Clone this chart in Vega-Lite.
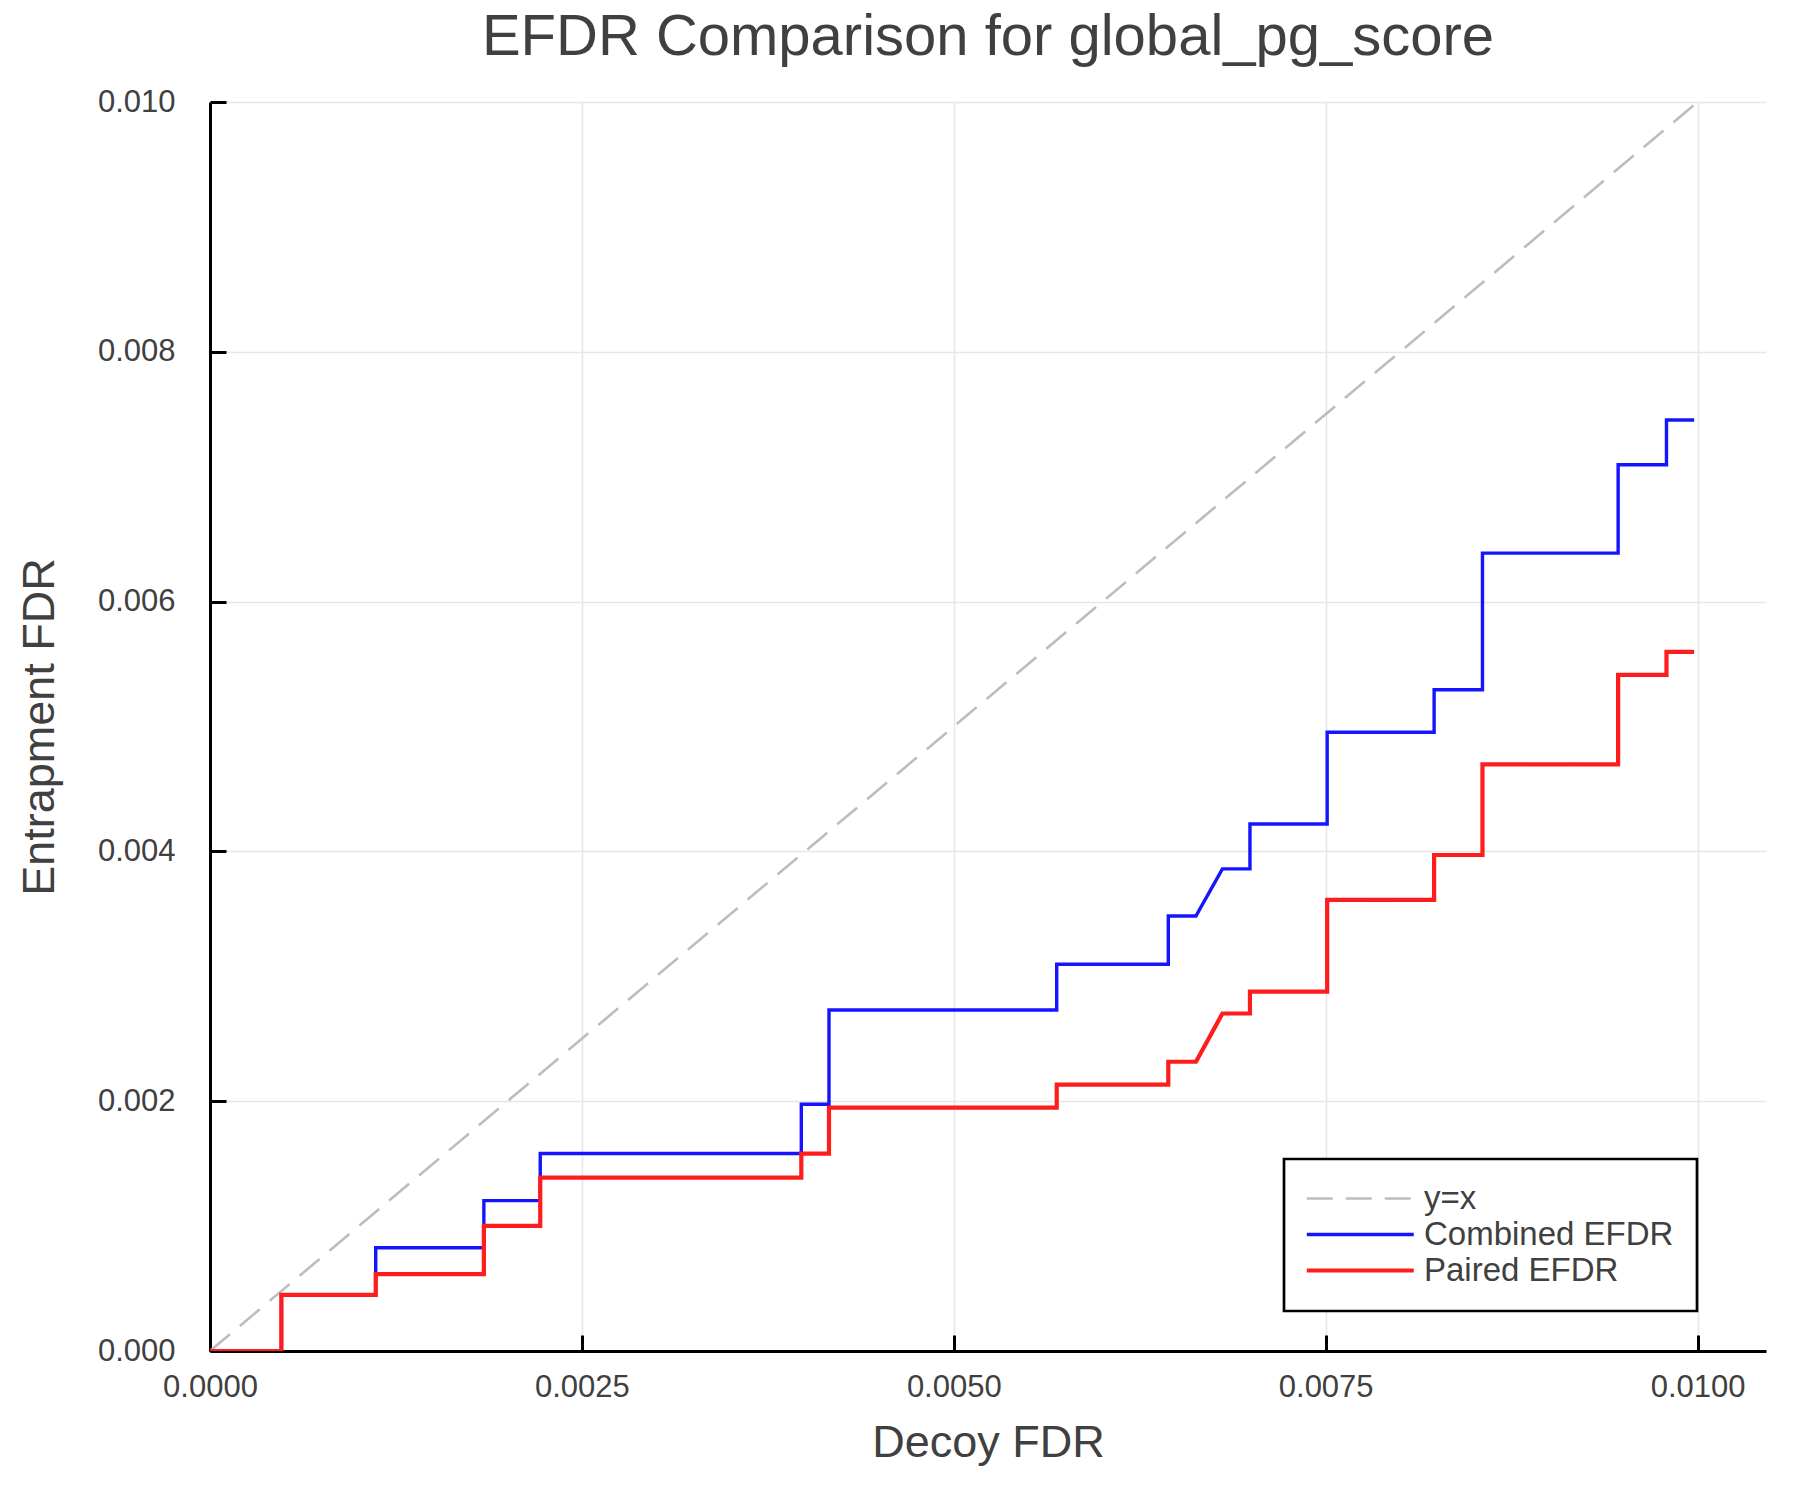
{
  "$schema": "https://vega.github.io/schema/vega-lite/v6.json",
  "autosize": {"type": "none"},
  "padding": {"left": 210, "top": 102, "right": 34, "bottom": 149},
  "width": 1556,
  "height": 1249,
  "background": "white",
  "title": {
    "text": "EFDR Comparison for global_pg_score",
    "fontSize": 58,
    "font": "Liberation Sans",
    "fontWeight": "normal",
    "color": "#404040",
    "anchor": "middle",
    "frame": "group",
    "baseline": "alphabetic",
    "offset": -27
  },
  "data": {
    "values": [
      {"series": "y=x", "i": 0, "fdr": 0, "efdr": 0},
      {"series": "y=x", "i": 1, "fdr": 0.01, "efdr": 0.01},
      {"series": "Combined EFDR", "i": 0, "fdr": 0, "efdr": 0},
      {"series": "Combined EFDR", "i": 1, "fdr": 0.00048, "efdr": 0},
      {"series": "Combined EFDR", "i": 2, "fdr": 0.00048, "efdr": 0.00045},
      {"series": "Combined EFDR", "i": 3, "fdr": 0.001114, "efdr": 0.00045},
      {"series": "Combined EFDR", "i": 4, "fdr": 0.001114, "efdr": 0.000827},
      {"series": "Combined EFDR", "i": 5, "fdr": 0.001841, "efdr": 0.000827},
      {"series": "Combined EFDR", "i": 6, "fdr": 0.001841, "efdr": 0.001204},
      {"series": "Combined EFDR", "i": 7, "fdr": 0.00222, "efdr": 0.001204},
      {"series": "Combined EFDR", "i": 8, "fdr": 0.00222, "efdr": 0.001581},
      {"series": "Combined EFDR", "i": 9, "fdr": 0.003975, "efdr": 0.001581},
      {"series": "Combined EFDR", "i": 10, "fdr": 0.003975, "efdr": 0.001976},
      {"series": "Combined EFDR", "i": 11, "fdr": 0.004161, "efdr": 0.001976},
      {"series": "Combined EFDR", "i": 12, "fdr": 0.004161, "efdr": 0.00273},
      {"series": "Combined EFDR", "i": 13, "fdr": 0.005692, "efdr": 0.00273},
      {"series": "Combined EFDR", "i": 14, "fdr": 0.005692, "efdr": 0.003097},
      {"series": "Combined EFDR", "i": 15, "fdr": 0.006442, "efdr": 0.003097},
      {"series": "Combined EFDR", "i": 16, "fdr": 0.006442, "efdr": 0.003483},
      {"series": "Combined EFDR", "i": 17, "fdr": 0.006628, "efdr": 0.003483},
      {"series": "Combined EFDR", "i": 18, "fdr": 0.006806, "efdr": 0.00386},
      {"series": "Combined EFDR", "i": 19, "fdr": 0.006991, "efdr": 0.00386},
      {"series": "Combined EFDR", "i": 20, "fdr": 0.006991, "efdr": 0.004219},
      {"series": "Combined EFDR", "i": 21, "fdr": 0.00751, "efdr": 0.004219},
      {"series": "Combined EFDR", "i": 22, "fdr": 0.00751, "efdr": 0.004954},
      {"series": "Combined EFDR", "i": 23, "fdr": 0.008229, "efdr": 0.004954},
      {"series": "Combined EFDR", "i": 24, "fdr": 0.008229, "efdr": 0.005294},
      {"series": "Combined EFDR", "i": 25, "fdr": 0.008554, "efdr": 0.005294},
      {"series": "Combined EFDR", "i": 26, "fdr": 0.008554, "efdr": 0.006388},
      {"series": "Combined EFDR", "i": 27, "fdr": 0.009466, "efdr": 0.006388},
      {"series": "Combined EFDR", "i": 28, "fdr": 0.009466, "efdr": 0.007096},
      {"series": "Combined EFDR", "i": 29, "fdr": 0.009791, "efdr": 0.007096},
      {"series": "Combined EFDR", "i": 30, "fdr": 0.009791, "efdr": 0.007454},
      {"series": "Combined EFDR", "i": 31, "fdr": 0.009977, "efdr": 0.007454},
      {"series": "Paired EFDR", "i": 0, "fdr": 0, "efdr": 0},
      {"series": "Paired EFDR", "i": 1, "fdr": 0.00048, "efdr": 0},
      {"series": "Paired EFDR", "i": 2, "fdr": 0.00048, "efdr": 0.00045},
      {"series": "Paired EFDR", "i": 3, "fdr": 0.001114, "efdr": 0.00045},
      {"series": "Paired EFDR", "i": 4, "fdr": 0.001114, "efdr": 0.000616},
      {"series": "Paired EFDR", "i": 5, "fdr": 0.001841, "efdr": 0.000616},
      {"series": "Paired EFDR", "i": 6, "fdr": 0.001841, "efdr": 0.001002},
      {"series": "Paired EFDR", "i": 7, "fdr": 0.00222, "efdr": 0.001002},
      {"series": "Paired EFDR", "i": 8, "fdr": 0.00222, "efdr": 0.001388},
      {"series": "Paired EFDR", "i": 9, "fdr": 0.003975, "efdr": 0.001388},
      {"series": "Paired EFDR", "i": 10, "fdr": 0.003975, "efdr": 0.001581},
      {"series": "Paired EFDR", "i": 11, "fdr": 0.004161, "efdr": 0.001581},
      {"series": "Paired EFDR", "i": 12, "fdr": 0.004161, "efdr": 0.001949},
      {"series": "Paired EFDR", "i": 13, "fdr": 0.005692, "efdr": 0.001949},
      {"series": "Paired EFDR", "i": 14, "fdr": 0.005692, "efdr": 0.002132},
      {"series": "Paired EFDR", "i": 15, "fdr": 0.006442, "efdr": 0.002132},
      {"series": "Paired EFDR", "i": 16, "fdr": 0.006442, "efdr": 0.002316},
      {"series": "Paired EFDR", "i": 17, "fdr": 0.006628, "efdr": 0.002316},
      {"series": "Paired EFDR", "i": 18, "fdr": 0.006806, "efdr": 0.002702},
      {"series": "Paired EFDR", "i": 19, "fdr": 0.006991, "efdr": 0.002702},
      {"series": "Paired EFDR", "i": 20, "fdr": 0.006991, "efdr": 0.002877},
      {"series": "Paired EFDR", "i": 21, "fdr": 0.00751, "efdr": 0.002877},
      {"series": "Paired EFDR", "i": 22, "fdr": 0.00751, "efdr": 0.003612},
      {"series": "Paired EFDR", "i": 23, "fdr": 0.008229, "efdr": 0.003612},
      {"series": "Paired EFDR", "i": 24, "fdr": 0.008229, "efdr": 0.003971},
      {"series": "Paired EFDR", "i": 25, "fdr": 0.008554, "efdr": 0.003971},
      {"series": "Paired EFDR", "i": 26, "fdr": 0.008554, "efdr": 0.004697},
      {"series": "Paired EFDR", "i": 27, "fdr": 0.009466, "efdr": 0.004697},
      {"series": "Paired EFDR", "i": 28, "fdr": 0.009466, "efdr": 0.005414},
      {"series": "Paired EFDR", "i": 29, "fdr": 0.009791, "efdr": 0.005414},
      {"series": "Paired EFDR", "i": 30, "fdr": 0.009791, "efdr": 0.005597},
      {"series": "Paired EFDR", "i": 31, "fdr": 0.009977, "efdr": 0.005597}
    ]
  },
  "mark": {"type": "line", "clip": true},
  "encoding": {
    "x": {
      "field": "fdr",
      "type": "quantitative",
      "title": "Decoy FDR",
      "scale": {"domain": [0, 0.01046], "nice": false, "zero": false},
      "axis": {
        "values": [0, 0.0025, 0.005, 0.0075, 0.01],
        "format": ".4f",
        "labelPadding": 37,
        "titlePadding": 18
      }
    },
    "y": {
      "field": "efdr",
      "type": "quantitative",
      "title": "Entrapment FDR",
      "scale": {"domain": [0, 0.01], "nice": false},
      "axis": {
        "values": [0, 0.002, 0.004, 0.006, 0.008, 0.01],
        "format": ".3f",
        "labelPadding": 51,
        "titlePadding": 35
      }
    },
    "order": {"field": "i", "type": "quantitative"},
    "color": {
      "field": "series",
      "type": "nominal",
      "title": null,
      "sort": ["y=x", "Combined EFDR", "Paired EFDR"],
      "scale": {
        "domain": ["y=x", "Combined EFDR", "Paired EFDR"],
        "range": ["#bdbdbd", "#1414ff", "#ff1c1c"]
      },
      "legend": {"orient": "none", "legendX": 1074, "legendY": 1057}
    },
    "strokeDash": {
      "field": "series",
      "type": "nominal",
      "title": null,
      "sort": ["y=x", "Combined EFDR", "Paired EFDR"],
      "scale": {
        "domain": ["y=x", "Combined EFDR", "Paired EFDR"],
        "range": [[26, 13], [1, 0], [1, 0]]
      },
      "legend": {"orient": "none", "legendX": 1074, "legendY": 1057}
    },
    "strokeWidth": {
      "field": "series",
      "type": "nominal",
      "title": null,
      "sort": ["y=x", "Combined EFDR", "Paired EFDR"],
      "scale": {
        "domain": ["y=x", "Combined EFDR", "Paired EFDR"],
        "range": [2.6, 4.2, 4.2]
      },
      "legend": {"orient": "none", "legendX": 1074, "legendY": 1057}
    }
  },
  "config": {
    "font": "Liberation Sans",
    "view": {"stroke": null},
    "axis": {
      "domainColor": "black",
      "domainWidth": 3,
      "tickColor": "black",
      "tickWidth": 3,
      "tickSize": -16,
      "gridColor": "#e6e6e6",
      "gridWidth": 1.5,
      "labelFontSize": 31,
      "labelColor": "#404040",
      "labelFont": "Liberation Sans",
      "titleFontSize": 45,
      "titleFontWeight": "normal",
      "titleColor": "#404040",
      "titleFont": "Liberation Sans"
    },
    "axisX": {"labelFlush": false},
    "legend": {
      "padding": 23,
      "strokeColor": "black",
      "strokeWidth": 2.7,
      "fillColor": "white",
      "cornerRadius": 0,
      "symbolType": "M-1.25,0H6.75",
      "symbolSize": 715,
      "labelFontSize": 33,
      "labelColor": "#404040",
      "labelFont": "Liberation Sans",
      "labelOffset": 84,
      "rowPadding": 2,
      "labelLimit": 400
    }
  }
}
